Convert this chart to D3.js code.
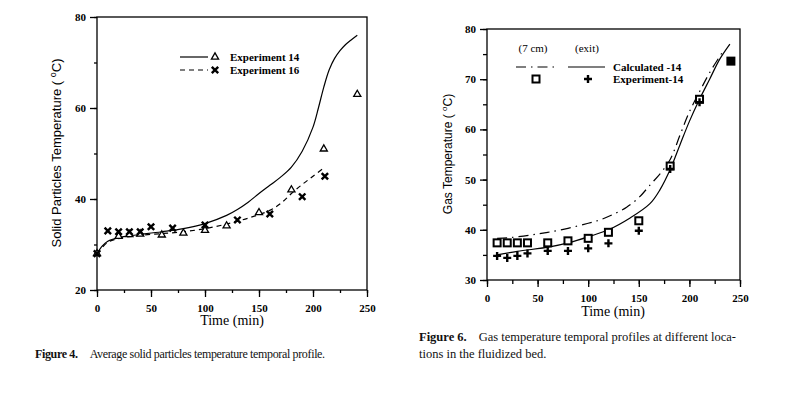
<!DOCTYPE html>
<meta charset="utf-8">
<script src="https://cdn.jsdelivr.net/npm/d3@7/dist/d3.min.js"></script>
<style>
    body { margin: 0; background: #fff; }
    .tick text { font-family: "Liberation Serif", serif; font-weight: bold; font-size: 11px; }
    .axis path, .axis line { stroke: #000; stroke-width: 1.3; fill: none; }
    .cap { font-family: "Liberation Serif", serif; font-size: 12.5px; fill: #111; }
</style>
<body>
<div id="chart"></div>
<script>

// ---- Figure 4 data (solid particles) ----
var calc14_t = [0, 5, 10, 20, 30, 40, 60, 80, 100, 120, 130, 140, 150, 160, 170, 180, 190, 200, 205, 210, 215, 220, 225, 230, 235, 241]
var calc14_T = [28, 29.7, 30.7, 31.5, 31.9, 32.2, 32.8, 33.5, 34.6, 36.4, 37.7, 39.3, 41.2, 43, 44.8, 47, 50.5, 55.8, 60, 64.6, 68.4, 70.9, 72.6, 73.9, 74.9, 76]
var calc16_t = [0, 10, 20, 40, 60, 80, 100, 120, 140, 160, 170, 180, 190, 200, 211]
var calc16_T = [28, 30.5, 31.3, 32, 32.4, 32.8, 33.5, 34.5, 35.8, 37.5, 39, 41.2, 43.2, 45, 47]
var exp14_t = [0, 20, 30, 40, 60, 80, 100, 120, 150, 180, 210, 241]
var exp14_T = [28, 31.8, 32.2, 32.3, 32.1, 32.5, 33.1, 34.1, 37, 42, 51, 63]
var exp16_t = [0, 10, 20, 30, 40, 50, 70, 100, 130, 160, 190, 211]
var exp16_T = [28, 33, 32.8, 32.8, 32.8, 33.9, 33.6, 34.3, 35.4, 36.7, 40.5, 45]

// ---- Figure 6 data (gas) ----
var gas7_t = [10, 20, 30, 45, 60, 80, 100, 112, 125, 138, 150, 161, 172, 181, 191, 200, 210, 220, 233]
var gas7_T = [38.3, 38.4, 38.6, 39, 39.5, 40.3, 41.3, 42, 43.1, 44.5, 46.4, 48.9, 51.4, 54, 59, 63.5, 67.5, 71.3, 75.5]
var gasExit_t = [10, 30, 62, 80, 100, 120, 141, 161, 171, 181, 191, 200, 210, 220, 230, 240]
var gasExit_T = [35, 35.7, 36.6, 37.4, 38.6, 40, 42.3, 45.2, 48, 52, 57.1, 61.6, 66, 70, 74, 77]
var sq_t = [10, 20, 30, 40, 60, 80, 100, 120, 150, 181, 210]
var sq_T = [37.4, 37.4, 37.4, 37.4, 37.4, 37.8, 38.3, 39.5, 41.8, 52.7, 66]
var sqFill_t = [241]
var sqFill_T = [73.6]
var plus_t = [10, 20, 30, 40, 60, 80, 100, 120, 150, 181, 210]
var plus_T = [34.8, 34.4, 34.8, 35.3, 35.8, 35.8, 36.3, 37.3, 39.8, 52.1, 65.4]

var svg = d3.select("#chart").append("svg").attr("width", 806).attr("height", 395)

function pts(ts, vs) { return ts.map((t, i) => [t, vs[i]]) }

function panel(o) {
    var x = d3.scaleLinear().domain([0, 250]).range([o.x0, o.x1])
    var y = d3.scaleLinear().domain(o.yDom).range([o.y0, o.y1])
    var g = svg.append("g")

    // box
    g.append("rect").attr("x", o.x0).attr("y", o.y1).attr("width", o.x1 - o.x0).attr("height", o.y0 - o.y1)
        .attr("fill", "none").attr("stroke", "#000").attr("stroke-width", 1.3)

    var xa = g.append("g").attr("class", "axis").attr("transform", "translate(0," + o.y0 + ")")
    xa.call(d3.axisBottom(x).tickValues(d3.range(0, 251, 25)).tickSize(o.minor).tickFormat(""))
    xa.append("g").call(d3.axisBottom(x).tickValues(d3.range(0, 251, 50)).tickSize(o.major).tickPadding(7))
    xa.selectAll(".domain").remove()

    var ya = g.append("g").attr("class", "axis").attr("transform", "translate(" + o.x0 + ",0)")
    ya.call(d3.axisLeft(y).tickValues(d3.range(o.yDom[0], o.yDom[1] + 1, o.yMinor)).tickSize(o.minor).tickFormat(""))
    ya.append("g").call(d3.axisLeft(y).tickValues(d3.range(o.yDom[0], o.yDom[1] + 1, o.yMajor)).tickSize(o.major).tickPadding(4))
    ya.selectAll(".domain").remove()

    return { g: g, x: x, y: y }
}

function drawLine(p, data, dash) {
    var line = d3.line().x(d => p.x(d[0])).y(d => p.y(d[1])).curve(d3.curveCatmullRom.alpha(0.5))
    p.g.append("path").datum(data).attr("d", line).attr("fill", "none").attr("stroke", "#000")
        .attr("stroke-width", 1.2).attr("stroke-dasharray", dash || null)
}

function triangle(g, cx, cy) {
    g.append("path").attr("d", d3.symbol(d3.symbolTriangle, 22)()).attr("transform", "translate(" + cx + "," + cy + ")")
        .attr("fill", "#fff").attr("stroke", "#000").attr("stroke-width", 1.3)
}
function cross(g, cx, cy) {
    g.append("path").attr("d", "M-3.2,-3.2L3.2,3.2M-3.2,3.2L3.2,-3.2").attr("transform", "translate(" + cx + "," + cy + ")")
        .attr("stroke", "#000").attr("stroke-width", 2.4)
}
function square(g, cx, cy, filled) {
    g.append("rect").attr("x", cx - 3.5).attr("y", cy - 3.5).attr("width", 7).attr("height", 7)
        .attr("fill", filled ? "#000" : "#fff").attr("stroke", "#000").attr("stroke-width", 2)
}
function plus(g, cx, cy) {
    g.append("path").attr("d", "M-4,0L4,0M0,-4L0,4").attr("transform", "translate(" + cx + "," + cy + ")")
        .attr("stroke", "#000").attr("stroke-width", 2.4)
}

// ---------- Figure 4 ----------
var p1 = panel({ x0: 97, x1: 367, y0: 290, y1: 17, yDom: [20, 80], yMajor: 20, yMinor: 10, major: 7, minor: 3 })
drawLine(p1, pts(calc14_t, calc14_T))
drawLine(p1, pts(calc16_t, calc16_T), "5,4")
pts(exp14_t, exp14_T).forEach(d => triangle(p1.g, p1.x(d[0]), p1.y(d[1])))
pts(exp16_t, exp16_T).forEach(d => cross(p1.g, p1.x(d[0]), p1.y(d[1])))

// legend
p1.g.append("line").attr("x1", 180).attr("x2", 208).attr("y1", 57).attr("y2", 57).attr("stroke", "#000").attr("stroke-width", 1.2)
p1.g.append("line").attr("x1", 180).attr("x2", 208).attr("y1", 70).attr("y2", 70).attr("stroke", "#000").attr("stroke-width", 1.2).attr("stroke-dasharray", "5,4")
triangle(p1.g, 215, 57)
cross(p1.g, 215, 70)
p1.g.append("text").attr("x", 230).attr("y", 61).text("Experiment 14")
    .style("font-family", "Liberation Serif").style("font-weight", "bold").style("font-size", "11px")
p1.g.append("text").attr("x", 230).attr("y", 74).text("Experiment 16")
    .style("font-family", "Liberation Serif").style("font-weight", "bold").style("font-size", "11px")

var yl1 = p1.g.append("text").attr("transform", "translate(61,153) rotate(-90)").attr("text-anchor", "middle")
    .style("font-family", "Liberation Sans").style("font-size", "13px")
yl1.append("tspan").text("Solid Particles Temperature ( ")
yl1.append("tspan").attr("dy", -5).style("font-size", "9px").text("o")
yl1.append("tspan").attr("dy", 5).text("C)")

p1.g.append("text").attr("x", 232).attr("y", 325).attr("text-anchor", "middle").text("Time (min)")
    .style("font-family", "Liberation Serif").style("font-size", "14px")

var c1 = svg.append("text").attr("class", "cap").attr("x", 35).attr("y", 358).style("letter-spacing", "-0.35px").style("font-size", "12px")
c1.append("tspan").style("font-weight", "bold").text("Figure 4.")
c1.append("tspan").attr("dx", 12).text("Average solid particles temperature temporal profile.")

// ---------- Figure 6 ----------
var p2 = panel({ x0: 487, x1: 740, y0: 280, y1: 29, yDom: [30, 80], yMajor: 10, yMinor: 5, major: 7, minor: 4 })
drawLine(p2, pts(gasExit_t, gasExit_T))
drawLine(p2, pts(gas7_t, gas7_T), "10,5,1.5,5")
pts(sq_t, sq_T).forEach(d => square(p2.g, p2.x(d[0]), p2.y(d[1]), false))
pts(sqFill_t, sqFill_T).forEach(d => square(p2.g, p2.x(d[0]), p2.y(d[1]), true))
pts(plus_t, plus_T).forEach(d => plus(p2.g, p2.x(d[0]), p2.y(d[1])))

// legend
p2.g.append("text").attr("x", 533).attr("y", 52).attr("text-anchor", "middle").text("(7 cm)").style("font-family", "Liberation Serif").style("font-size", "11px")
p2.g.append("text").attr("x", 587).attr("y", 52).attr("text-anchor", "middle").text("(exit)").style("font-family", "Liberation Serif").style("font-size", "11px")
p2.g.append("line").attr("x1", 516).attr("x2", 554).attr("y1", 67).attr("y2", 67).attr("stroke", "#000").attr("stroke-width", 1.2).attr("stroke-dasharray", "10,5,1.5,5")
p2.g.append("line").attr("x1", 568).attr("x2", 605).attr("y1", 67).attr("y2", 67).attr("stroke", "#000").attr("stroke-width", 1.2)
square(p2.g, 536, 79, false)
plus(p2.g, 588, 79)
p2.g.append("text").attr("x", 613).attr("y", 71).text("Calculated -14")
    .style("font-family", "Liberation Serif").style("font-weight", "bold").style("font-size", "11px")
p2.g.append("text").attr("x", 613).attr("y", 83).text("Experiment-14")
    .style("font-family", "Liberation Serif").style("font-weight", "bold").style("font-size", "11px")

var yl2 = p2.g.append("text").attr("transform", "translate(452,154) rotate(-90)").attr("text-anchor", "middle")
    .style("font-family", "Liberation Sans").style("font-size", "12px")
yl2.append("tspan").text("Gas Temperature ( ")
yl2.append("tspan").attr("dy", -5).style("font-size", "8px").text("o")
yl2.append("tspan").attr("dy", 5).text("C)")

p2.g.append("text").attr("x", 613).attr("y", 316).attr("text-anchor", "middle").text("Time (min)")
    .style("font-family", "Liberation Serif").style("font-size", "14px")

var c2 = svg.append("text").attr("class", "cap").attr("x", 419).attr("y", 341)
c2.append("tspan").style("font-weight", "bold").text("Figure 6.")
c2.append("tspan").attr("dx", 12).text("Gas temperature temporal profiles at different loca-")
svg.append("text").attr("class", "cap").attr("x", 419).attr("y", 358).text("tions in the fluidized bed.")

</script>
</body>
